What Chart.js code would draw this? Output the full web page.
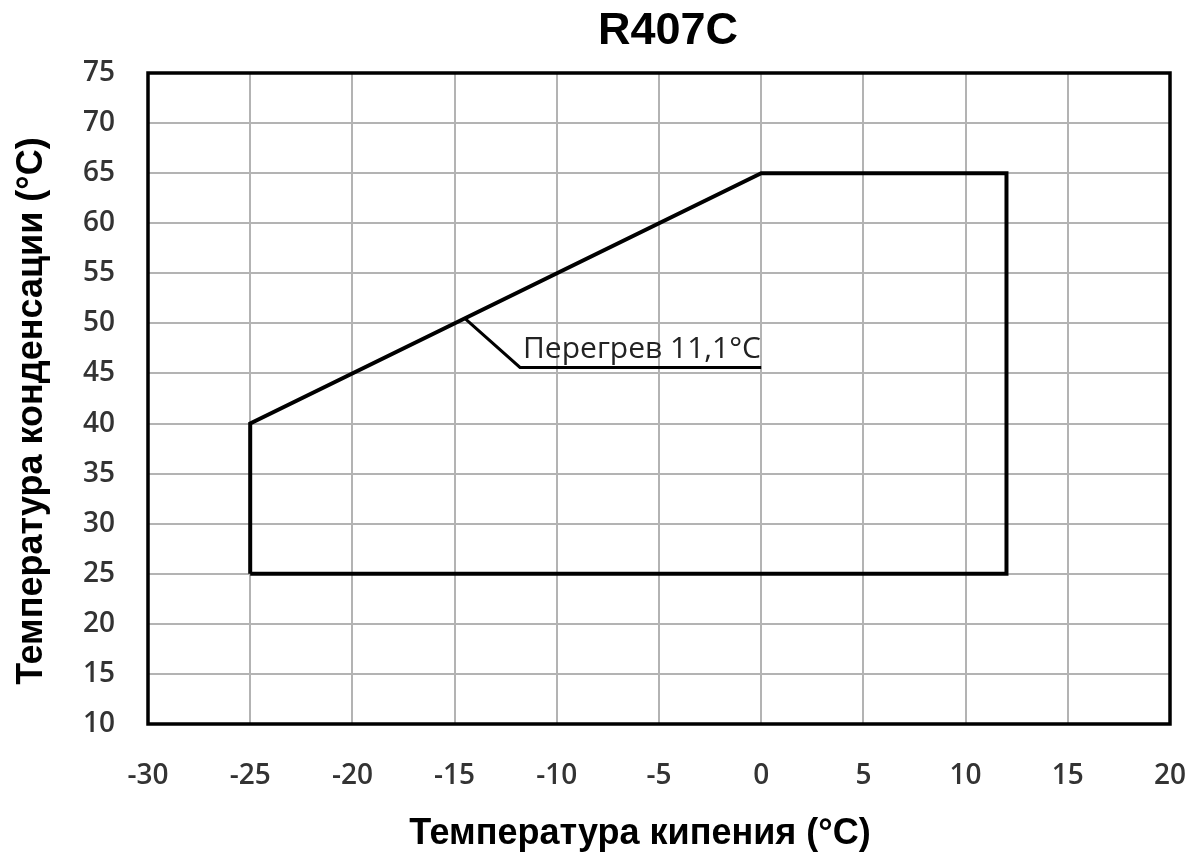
<!DOCTYPE html>
<html>
<head>
<meta charset="utf-8">
<style>
  body { margin: 0; background: #fff; }
  #wrap { width: 1188px; height: 854px; }
</style>
<script src="https://cdn.jsdelivr.net/npm/chart.js"></script>
</head>
<body>
<div id="wrap"><canvas id="chart"></canvas></div>
<script>
  // operating envelope (evaporating vs condensing temperature)
  const envelopeX = [-25, -25, 0, 12, 12, -25];
  const envelopeY = [25, 40, 65, 65, 25, 25];

  // leader line for the superheat note
  const leaderX = [-14.5, -11.8, 0];
  const leaderY = [50.5, 45.6, 45.6];
  const noteText = 'Перегрев 11,1°C';

  const titleText = 'R407C';
  const xTitle = 'Температура кипения (°C)';
  const yTitle = 'Температура конденсации (°C)';
  const xMin = -30, xMax = 20, yMin = 10, yMax = 75, step = 5;

  const toPoints = (xs, ys) => xs.map((x, i) => ({ x, y: ys[i] }));

  const decor = {
    id: 'decor',
    afterDatasetsDraw(chart) {
      const { ctx, chartArea: a, scales } = chart;
      ctx.save();
      // plot frame
      ctx.strokeStyle = '#000';
      ctx.lineWidth = 3.5;
      ctx.strokeRect(a.left, a.top, a.right - a.left, a.bottom - a.top);
      // note text sitting on the leader line
      ctx.fillStyle = '#222';
      ctx.font = '30px "Open Sans"';
      ctx.textBaseline = 'alphabetic';
      ctx.textAlign = 'left';
      ctx.fillText(noteText, scales.x.getPixelForValue(leaderX[1]) + 3, scales.y.getPixelForValue(leaderY[1]) - 9);
      // title and axis titles (the original sits them a little off the axis centres)
      ctx.fillStyle = '#000';
      ctx.textAlign = 'center';
      ctx.textBaseline = 'middle';
      ctx.font = 'bold 45px "Liberation Sans"';
      ctx.fillText(titleText, 668, 32);
      ctx.font = 'bold 36px "Liberation Sans"';
      ctx.fillText(xTitle, 640, 834);
      ctx.translate(32, 411);
      ctx.rotate(-Math.PI / 2);
      ctx.fillText(yTitle, 0, 0);
      ctx.restore();
    }
  };

  const tickFont = { family: '"Open Sans"', size: 28, weight: '600' };

  new Chart(document.getElementById('chart'), {
    type: 'scatter',
    data: {
      datasets: [
        {
          data: toPoints(envelopeX, envelopeY),
          showLine: true,
          borderColor: '#000',
          borderWidth: 4,
          pointRadius: 0,
          fill: false,
          tension: 0
        },
        {
          data: toPoints(leaderX, leaderY),
          showLine: true,
          borderColor: '#000',
          borderWidth: 3,
          pointRadius: 0,
          fill: false,
          tension: 0
        }
      ]
    },
    options: {
      responsive: true,
      maintainAspectRatio: false,
      animation: false,
      layout: { padding: { top: 73, right: 18, left: 0, bottom: 0 } },
      plugins: {
        legend: { display: false },
        tooltip: { enabled: false }
      },
      scales: {
        x: {
          type: 'linear',
          min: xMin,
          max: xMax,
          ticks: { stepSize: step, color: '#333', font: tickFont, padding: 35 },
          grid: { color: '#b3b3b3', lineWidth: 2, drawTicks: false },
          border: { display: false },
          afterFit(scale) {
            scale.height = 130;
            scale.paddingLeft = 0;
            scale.paddingRight = 14;
          }
        },
        y: {
          type: 'linear',
          min: yMin,
          max: yMax,
          ticks: { stepSize: step, color: '#333', font: tickFont, padding: 33 },
          grid: { color: '#b3b3b3', lineWidth: 2, drawTicks: false },
          border: { display: false },
          afterFit(scale) { scale.width = 148; }
        }
      }
    },
    plugins: [decor]
  });
</script>
</body>
</html>
